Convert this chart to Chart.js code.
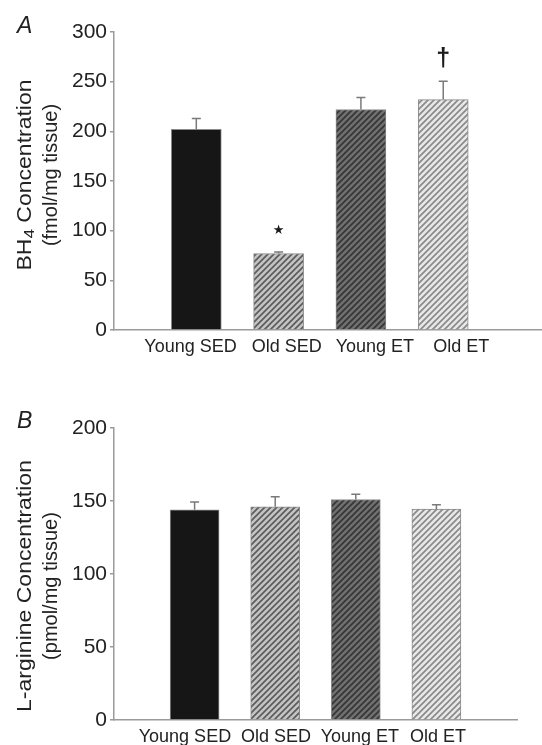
<!DOCTYPE html>
<html>
<head>
<meta charset="utf-8">
<script src="https://cdn.jsdelivr.net/npm/chart.js@4.4.1/dist/chart.umd.min.js"></script>
<style>
  html, body { margin: 0; padding: 0; background: #fff; }
  #wrap { position: relative; width: 542px; height: 745px; }
  canvas { position: absolute; left: 0; }
</style>
</head>
<body>
<div id="wrap">
  <canvas id="chartA" width="542" height="370" style="top:0"></canvas>
  <canvas id="chartB" width="542" height="375" style="top:370px"></canvas>
</div>
<script>
// data
const categories = ['Young SED', 'Old SED', 'Young ET', 'Old ET'];

const bh4Values = [202, 77, 222, 232];
const bh4Errors = [11, 1.5, 12, 18.5];
const bh4Marks = ['', '\u2605', '', '\u2020'];
const bh4Ticks = [0, 50, 100, 150, 200, 250, 300];

const argValues = [144, 146, 151, 144.5];
const argErrors = [5.3, 6.9, 3.6, 3];
const argMarks = ['', '', '', ''];
const argTicks = [0, 50, 100, 150, 200];

Chart.defaults.font.family = '"Liberation Sans", Arial, sans-serif';
Chart.defaults.color = '#222';

function makeHatch(bg, fg) {
    const c = document.createElement('canvas');
    c.width = 6; c.height = 6;
    const g = c.getContext('2d');
    g.fillStyle = bg;
    g.fillRect(0, 0, 6, 6);
    g.strokeStyle = fg;
    g.lineWidth = 1.7;
    g.beginPath();
    g.moveTo(-1, 7); g.lineTo(7, -1);
    g.moveTo(-1, 1); g.lineTo(1, -1);
    g.moveTo(5, 7); g.lineTo(7, 5);
    g.stroke();
    return g.createPattern(c, 'repeat');
}

const barFills = [
    '#161616',
    makeHatch('#c4c4c4', '#5c5c5c'),
    makeHatch('#707070', '#363636'),
    makeHatch('#e8e8e8', '#8a8a8a')
];

// error bars (upper only) + significance marks
const errorBars = {
    id: 'errorBars',
    afterDatasetsDraw(chart, args, o) {
        const ctx = chart.ctx;
        const y = chart.scales.y;
        const bars = chart.getDatasetMeta(0).data;
        ctx.save();
        bars.forEach((bar, i) => {
            const top = y.getPixelForValue(o.values[i] + o.errors[i]);
            const base = y.getPixelForValue(o.values[i]);
            ctx.strokeStyle = '#7a7a7a';
            ctx.lineWidth = 1.5;
            ctx.beginPath();
            ctx.moveTo(bar.x, base);
            ctx.lineTo(bar.x, top);
            ctx.moveTo(bar.x - 4.5, top);
            ctx.lineTo(bar.x + 4.5, top);
            ctx.stroke();

            const mark = o.marks[i];
            if (!mark) return;
            ctx.fillStyle = '#1a1a1a';
            ctx.textAlign = 'center';
            ctx.textBaseline = 'middle';
            if (mark === '\u2605') {
                ctx.font = '13px "DejaVu Sans"';
                ctx.fillText(mark, bar.x, top - 21);
            } else {
                ctx.font = 'bold 25px "Liberation Sans"';
                ctx.fillText(mark, bar.x, top - 22);
            }
        });
        ctx.restore();
    }
};

// panel letter and the y axis title (drawn by hand for the subscript and
// the tall, narrow lettering of the print)
const panelText = {
    id: 'panelText',
    afterDraw(chart, args, o) {
        const ctx = chart.ctx;
        ctx.save();
        ctx.fillStyle = '#222';
        ctx.textBaseline = 'alphabetic';
        ctx.textAlign = 'left';
        ctx.font = 'italic 23px "Liberation Sans"';
        ctx.fillText(o.letter, 17, o.letterY);

        ctx.translate(o.titleX, o.titleY);
        ctx.rotate(-Math.PI / 2);
        ctx.textBaseline = 'middle';
        o.lines.forEach((line, li) => {
            const stretch = li === 0 ? 1.15 : 1.0;
            const size = 20;
            const subSize = 15;
            let w = 0;
            line.forEach(seg => {
                ctx.font = (seg.sub ? subSize : size) + 'px "Liberation Sans"';
                w += ctx.measureText(seg.text).width;
            });
            ctx.save();
            ctx.translate(0, li * 26);
            ctx.scale(stretch, 1);
            let x = -w / 2;
            line.forEach(seg => {
                ctx.font = (seg.sub ? subSize : size) + 'px "Liberation Sans"';
                ctx.fillText(seg.text, x, seg.sub ? 5 : 0);
                x += ctx.measureText(seg.text).width;
            });
            ctx.restore();
        });
        ctx.restore();
    }
};

function makeChart(id, cfg) {
    const data = categories.map((c, i) => ({ x: i + 1, y: cfg.values[i] }));
    return new Chart(document.getElementById(id), {
        type: 'bar',
        data: {
            datasets: [{
                data: data,
                backgroundColor: barFills,
                borderColor: '#8a8a8a',
                borderWidth: 1,
                barThickness: cfg.barWidth
            }]
        },
        options: {
            responsive: false,
            animation: false,
            layout: { padding: { top: cfg.padTop, right: cfg.padRight, left: 0, bottom: 0 } },
            plugins: {
                legend: { display: false },
                tooltip: { enabled: false },
                errorBars: { values: cfg.values, errors: cfg.errors, marks: cfg.marks },
                panelText: { letter: cfg.letter, letterY: cfg.letterY, titleX: 25, titleY: cfg.titleY, lines: cfg.title }
            },
            scales: {
                x: {
                    type: 'linear',
                    min: 0,
                    max: cfg.xMax,
                    offset: false,
                    afterFit: s => { s.height = cfg.xHeight; },
                    // labels sit a little apart from the bar centres, as in the print
                    afterBuildTicks: s => { s.ticks = categories.map((c, i) => ({ value: i + 1 + cfg.labelShift[i] })); },
                    border: { display: true, color: '#9a9a9a', width: 1.5 },
                    grid: { display: true, drawOnChartArea: false, drawTicks: false },
                    ticks: {
                        autoSkip: false,
                        maxRotation: 0,
                        padding: 6,
                        font: { size: 18 },
                        callback: (v, i) => categories[i]
                    }
                },
                y: {
                    min: 0,
                    max: cfg.ticks[cfg.ticks.length - 1],
                    afterFit: s => { s.width = 114; },
                    afterBuildTicks: s => { s.ticks = cfg.ticks.map(v => ({ value: v })); },
                    border: { display: true, color: '#9a9a9a', width: 1.5 },
                    grid: { display: true, drawOnChartArea: false, drawTicks: true, tickLength: 4, color: '#9a9a9a', lineWidth: 1.5 },
                    ticks: { padding: 3, font: { size: 21 } }
                }
            }
        },
        plugins: [errorBars, panelText]
    });
}

makeChart('chartA', {
    values: bh4Values, errors: bh4Errors, marks: bh4Marks, ticks: bh4Ticks,
    letter: 'A', letterY: 33, titleY: 175,
    title: [[{ text: 'BH' }, { text: '4', sub: true }, { text: ' Concentration' }], [{ text: '(fmol/mg tissue)' }]],
    padTop: 32, padRight: 0, xMax: 5.2, xHeight: 40, barWidth: 50,
    labelShift: [-0.07, 0.1, 0.17, 0.22]
});

makeChart('chartB', {
    values: argValues, errors: argErrors, marks: argMarks, ticks: argTicks,
    letter: 'B', letterY: 58, titleY: 216,
    title: [[{ text: 'L-arginine Concentration' }], [{ text: '(pmol/mg tissue)' }]],
    padTop: 58, padRight: 25, xMax: 5, xHeight: 25, barWidth: 49,
    labelShift: [-0.12, 0.01, 0.05, 0.02]
});
</script>
</body>
</html>
